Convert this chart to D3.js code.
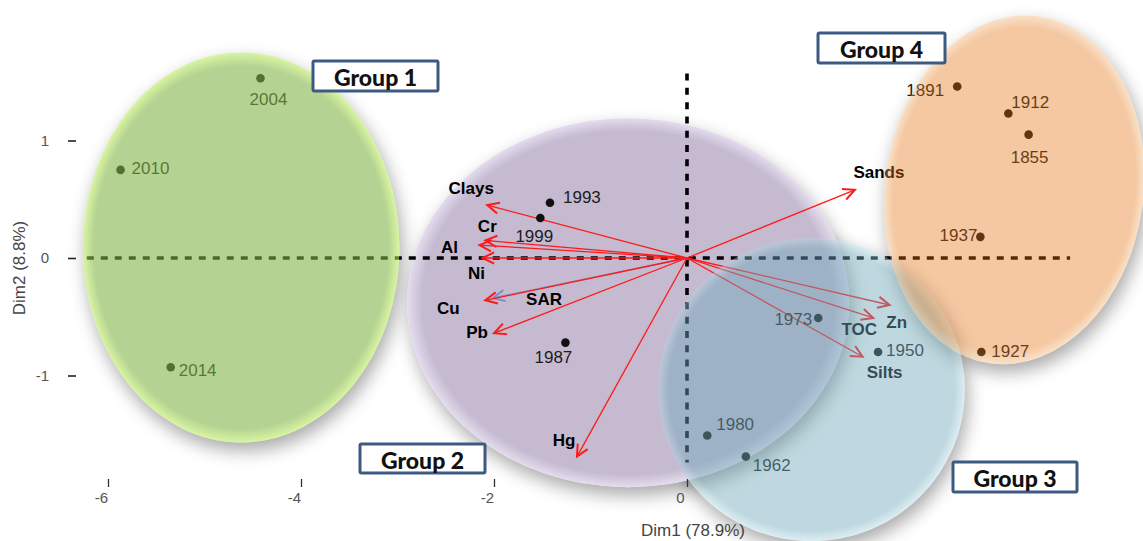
<!DOCTYPE html>
<html>
<head>
<meta charset="utf-8">
<script src="https://cdn.jsdelivr.net/npm/d3@7"></script>
<style>
  html, body { margin: 0; padding: 0; background: #fff; }
  svg { display: block; }
</style>
</head>
<body>
<svg id="chart" width="1143" height="541"></svg>
<script>
// ---- Individuals (sediment layers by year) on the first two dimensions ----
const years     = ["2004", "2010", "2014", "1993", "1999", "1987", "1973", "1950", "1980", "1962", "1891", "1912", "1855", "1937", "1927"];
const dim1      = [-4.42, -5.87, -5.35, -1.42, -1.52, -1.26, 1.36, 1.98, 0.21, 0.61, 2.80, 3.33, 3.54, 3.04, 3.05];
const dim2      = [ 1.53,  0.75, -0.93,  0.47,  0.34, -0.72, -0.51, -0.80, -1.51, -1.69, 1.46, 1.23, 1.05, 0.18, -0.80];

// ---- Variables (loadings, scaled onto the score plane) ----
const variables = ["Clays", "Cr", "Al", "Ni", "SAR", "Cu", "Pb", "Hg", "Sands", "Zn", "TOC", "Silts"];
const loadDim1  = [-2.07, -2.09, -2.15, -2.12, -2.01, -2.09, -2.00, -1.14, 1.74, 2.10, 1.93, 1.82];
const loadDim2  = [ 0.45,  0.15,  0.11,  0.00, -0.34, -0.36, -0.64, -1.69, 0.58, -0.40, -0.51, -0.84];

// ---- Group ellipses (data units) ----
const groups    = ["Group 1", "Group 2", "Group 3", "Group 4"];
const ellCx     = [-4.62, -0.61, 1.29, 3.39];
const ellCy     = [ 0.09, -0.38, -1.12, 0.58];
const ellRx     = [ 1.64,  2.29, 1.59, 1.34];
const ellRy     = [ 1.66,  1.57, 1.29, 1.49];

// ---- Axis ticks ----
const xTicks = [-6, -4, -2, 0];
const yTicks = [-1, 0, 1];

// ---------------------------------------------------------------------------
const W = 1143, H = 541;
const svg = d3.select("#chart");

const x = d3.scaleLinear().domain([-6, 4]).range([108, 1073]);
const y = d3.scaleLinear().domain([-2, 2]).range([493, 23]);

// styling of each group: fill, lighter rim, opacity, tilt, drawn above the marks or not
const groupStyle = [
  { fill: "rgb(128,180,70)",  rim: "rgb(190,238,95)",  alpha: 0.59, tilt: 0, over: true },
  { fill: "rgb(197,186,208)", rim: "rgb(228,220,238)", alpha: 1.0,  tilt: 0, over: false },
  { fill: "rgb(111,168,186)", rim: "rgb(180,215,228)", alpha: 0.45, tilt: 0, over: true },
  { fill: "rgb(226,110,10)",  rim: "rgb(242,176,110)", alpha: 0.38, tilt: 8, over: true }
];
const yearGroup = [0, 0, 0, 1, 1, 1, 2, 2, 2, 2, 3, 3, 3, 3, 3];

// where each group caption box sits (pixels)
const groupBox = [
  { x: 313, y: 61,  w: 125, h: 30 },
  { x: 360, y: 444, w: 125, h: 29 },
  { x: 953, y: 462, w: 124, h: 30 },
  { x: 818, y: 33,  w: 127, h: 30 }
];

// label placement relative to each point
const yearLabel = {
  "2004": ["middle", 8, 21],  "2010": ["start", 11, -1], "2014": ["start", 8, 3],
  "1993": ["start", 13, -5],  "1999": ["middle", -6, 18], "1987": ["middle", -12, 15],
  "1973": ["end", -6, 2],     "1950": ["start", 8, -2],   "1980": ["start", 9, -11],
  "1962": ["start", 7, 9],    "1891": ["end", -13, 4],    "1912": ["start", 3, -11],
  "1855": ["middle", 1, 23],  "1937": ["end", -3, -1],    "1927": ["start", 10, -1]
};
// label placement relative to each arrow tip
const varLabel = {
  Clays: [-16, -17], Cr: [2, -14], Al: [-30, 2], Ni: [-6, 15], SAR: [51, 2], Cu: [-37, 8],
  Pb: [-17, -1], Hg: [-13, -16], Sands: [24, -17], Zn: [7, 17], TOC: [-14, 12], Silts: [22, 16]
};
const varColor = { SAR: "#7d8cc4" };

const defs = svg.append("defs");

// soft shadow
const blur = defs.append("filter").attr("id", "soft")
  .attr("x", "-30%").attr("y", "-30%").attr("width", "160%").attr("height", "160%");
blur.append("feGaussianBlur").attr("stdDeviation", 9);

function ellipseAttrs(sel, i) {
  const cx = x(ellCx[i]), cy = y(ellCy[i]);
  sel.attr("cx", cx).attr("cy", cy)
     .attr("rx", x(ellRx[i]) - x(0))
     .attr("ry", y(0) - y(ellRy[i]))
     .attr("transform", `rotate(${groupStyle[i].tilt},${cx},${cy})`);
  return sel;
}

groups.forEach((g, i) => {
  const st = groupStyle[i];
  const grad = defs.append("radialGradient").attr("id", "grad" + i)
    .attr("cx", "50%").attr("cy", "50%").attr("r", "50%");
  grad.append("stop").attr("offset", "0%").attr("stop-color", st.fill);
  grad.append("stop").attr("offset", "93%").attr("stop-color", st.fill);
  grad.append("stop").attr("offset", "100%").attr("stop-color", st.rim);

  const mask = defs.append("mask").attr("id", "mask" + i)
    .attr("maskUnits", "userSpaceOnUse").attr("x", 0).attr("y", 0).attr("width", W).attr("height", H);
  mask.append("rect").attr("width", W).attr("height", H).attr("fill", "#fff");
  ellipseAttrs(mask.append("ellipse"), i).attr("fill", "#000");
});

// shadows under every ellipse
const shadowLayer = svg.append("g");
groups.forEach((g, i) => {
  shadowLayer.append("g").attr("mask", `url(#mask${i})`)
    .append("g").attr("transform", "translate(3,8)")
    .call(s => ellipseAttrs(s.append("ellipse"), i)
      .attr("fill", "#000").attr("opacity", 0.34).attr("filter", "url(#soft)"));
});

// ellipses drawn below the marks
groups.forEach((g, i) => {
  if (groupStyle[i].over) return;
  ellipseAttrs(svg.append("ellipse"), i).attr("fill", `url(#grad${i})`);
});

// axes (plain hyphen for negative numbers)
const fmt = d => String(d);
const xAxis = svg.append("g").attr("transform", "translate(0,479)")
  .call(d3.axisBottom(x).tickValues(xTicks).tickSize(8).tickPadding(5).tickFormat(fmt));
xAxis.select(".domain").remove();
xAxis.selectAll("line").attr("stroke", "#333").attr("stroke-width", 1.3);
xAxis.selectAll("text").attr("dx", -7).attr("fill", "#555")
  .style("font-family", "'Liberation Sans', Arial, sans-serif").style("font-size", "15px");

const yAxis = svg.append("g").attr("transform", "translate(76,0)")
  .call(d3.axisLeft(y).tickValues(yTicks).tickSize(8).tickPadding(19).tickFormat(fmt));
yAxis.select(".domain").remove();
yAxis.selectAll("line").attr("stroke", "#222").attr("stroke-width", 1.6);
yAxis.selectAll("text").attr("fill", "#555")
  .style("font-family", "'Liberation Sans', Arial, sans-serif").style("font-size", "15px");

svg.append("text").attr("x", 693).attr("y", 530).attr("text-anchor", "middle")
  .attr("dominant-baseline", "central").attr("fill", "#444")
  .style("font-family", "'Liberation Sans', Arial, sans-serif").style("font-size", "17px")
  .text("Dim1 (78.9%)");
svg.append("text").attr("transform", "translate(19,268) rotate(-90)").attr("text-anchor", "middle")
  .attr("dominant-baseline", "central").attr("fill", "#444")
  .style("font-family", "'Liberation Sans', Arial, sans-serif").style("font-size", "17px")
  .text("Dim2 (8.8%)");

// reference lines through the origin
svg.append("line").attr("x1", x(-6.22)).attr("x2", x(3.97)).attr("y1", y(0)).attr("y2", y(0))
  .attr("stroke", "#000").attr("stroke-width", 3.4).attr("stroke-dasharray", "7,7");
svg.append("line").attr("x1", x(0)).attr("x2", x(0)).attr("y1", y(1.57)).attr("y2", y(-1.74))
  .attr("stroke", "#000").attr("stroke-width", 3.6).attr("stroke-dasharray", "7,7.3");

// variable arrows
const ox = x(0), oy = y(0);
const arrows = svg.append("g");
variables.forEach((v, i) => {
  const tx = x(loadDim1[i]), ty = y(loadDim2[i]);
  const a = Math.atan2(ty - oy, tx - ox), h = 13, s = Math.PI / 7;
  const col = varColor[v] || "#ff1a1a";
  arrows.append("line").attr("x1", ox).attr("y1", oy).attr("x2", tx).attr("y2", ty)
    .attr("stroke", col).attr("stroke-width", 1.3);
  arrows.append("path")
    .attr("d", `M${tx - h * Math.cos(a - s)},${ty - h * Math.sin(a - s)}L${tx},${ty}L${tx - h * Math.cos(a + s)},${ty - h * Math.sin(a + s)}`)
    .attr("fill", "none").attr("stroke", col).attr("stroke-width", 2);
  const [dx, dy] = varLabel[v];
  arrows.append("text").attr("x", tx + dx).attr("y", ty + dy)
    .attr("text-anchor", "middle").attr("dominant-baseline", "central")
    .attr("fill", "#000").style("font-family", "'Liberation Sans', Arial, sans-serif")
    .style("font-size", "17px").style("font-weight", "bold").text(v);
});

// individuals
const pts = svg.append("g");
years.forEach((yr, i) => {
  const px = x(dim1[i]), py = y(dim2[i]);
  pts.append("circle").attr("cx", px).attr("cy", py).attr("r", 4.3).attr("fill", "#111");
  const [anchor, dx, dy] = yearLabel[yr];
  pts.append("text").attr("x", px + dx).attr("y", py + dy)
    .attr("text-anchor", anchor).attr("dominant-baseline", "central")
    .attr("fill", "#1c1c1c").style("font-family", "'Liberation Sans', Arial, sans-serif")
    .style("font-size", "17px").text(yr);
});

// translucent ellipses laid over the marks
groups.forEach((g, i) => {
  if (!groupStyle[i].over) return;
  ellipseAttrs(svg.append("ellipse"), i).attr("fill", `url(#grad${i})`)
    .attr("fill-opacity", groupStyle[i].alpha);
});

// group captions
groups.forEach((g, i) => {
  const b = groupBox[i];
  svg.append("rect").attr("x", b.x).attr("y", b.y).attr("width", b.w).attr("height", b.h)
    .attr("fill", "#fff").attr("stroke", "#3c5a82").attr("stroke-width", 3).attr("rx", 1.5);
  svg.append("text").attr("x", b.x + b.w / 2).attr("y", b.y + b.h / 2 + 1)
    .attr("text-anchor", "middle").attr("dominant-baseline", "central")
    .attr("fill", "#111").style("font-family", "Lato, 'Open Sans', sans-serif")
    .style("font-size", "23px").style("font-weight", "900").text(g);
});
</script>
</body>
</html>
